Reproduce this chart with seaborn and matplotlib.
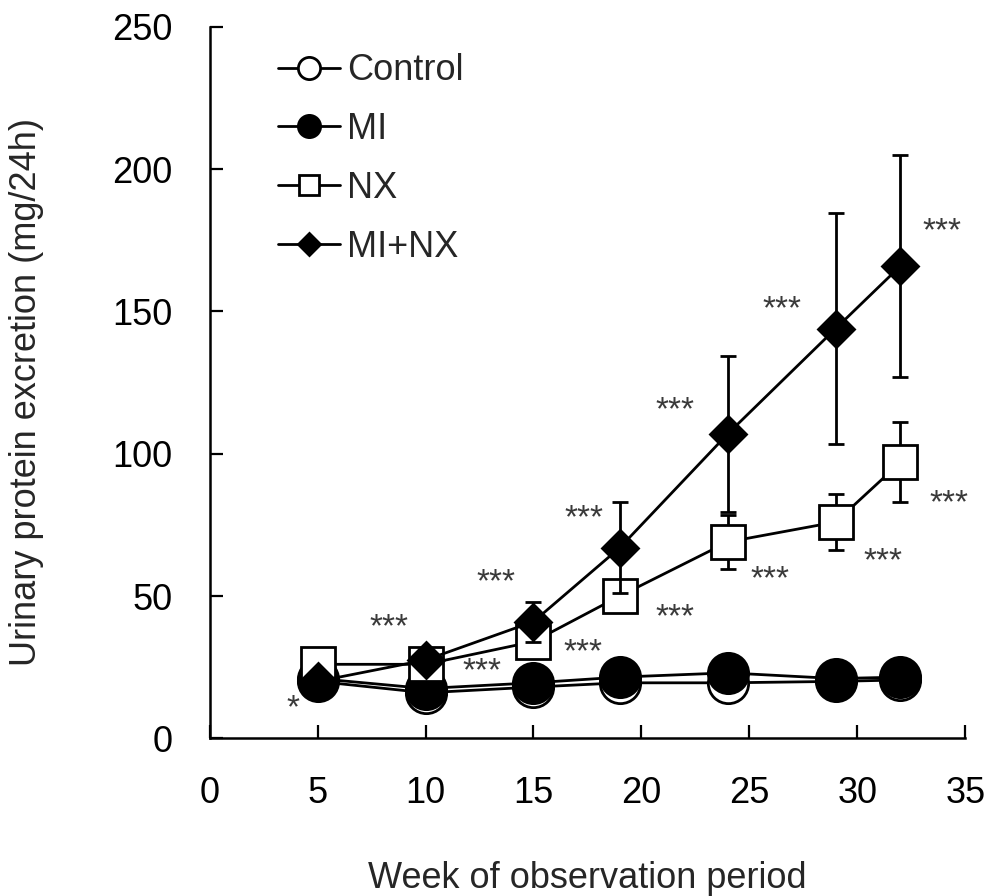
import matplotlib
matplotlib.use("Agg")
import matplotlib.pyplot as plt
from matplotlib.lines import Line2D
import seaborn as sns
import numpy as np

weeks = [5, 10, 15, 19, 24, 29, 32]
control = [20, 16, 18, 19.5, 19.5, 20, 20.5]
mi = [21, 17.5, 19.5, 21.5, 23, 21, 21.5]
nx = [26, 26, 34, 50, 69, 76, 97]
nx_err = [2, 2, 3, 3, 9.5, 10, 14]
minx = [20, 27.5, 41, 67, 107, 144, 166]
minx_err = [1, 2, 7, 16, 27.5, 40.5, 39]

series_names = ["Control", "MI", "NX", "MI+NX"]

ann_x = [3.85, 8.3, 12.6, 13.25, 17.3, 17.35, 21.55, 21.55, 25.95, 26.5, 31.2, 33.9, 34.25]
ann_y = [10.5, 39.0, 23.5, 54.8, 30.2, 77.0, 42.2, 115.0, 55.8, 150.6, 62.2, 178.0, 82.3]
ann_txt = ["*"] + ["***"] * 12

x_ticks = [0, 5, 10, 15, 20, 25, 30, 35]
y_ticks = [0, 50, 100, 150, 200, 250]

sns.set_style("ticks")
plt.rcParams["font.family"] = ["Liberation Sans", "DejaVu Sans"]

fig = plt.figure(figsize=(9.89, 8.96), dpi=100)
ax = fig.add_axes([0.212, 0.176, 0.764, 0.794])

lw = 2.0
mew = 2.0

sns.lineplot(x=weeks, y=control, ax=ax, color="black", linewidth=lw, marker="o",
             markersize=29, markerfacecolor="white", markeredgecolor="black",
             markeredgewidth=mew, errorbar=None, zorder=2.0)
sns.lineplot(x=weeks, y=mi, ax=ax, color="black", linewidth=lw, marker="o",
             markersize=29, markerfacecolor="black", markeredgecolor="black",
             markeredgewidth=mew, errorbar=None, zorder=2.1)
ax.errorbar(weeks, nx, yerr=nx_err, fmt="none", ecolor="black", elinewidth=lw,
            capsize=6, capthick=lw, zorder=2.2)
sns.lineplot(x=weeks, y=nx, ax=ax, color="black", linewidth=lw, marker="s",
             markersize=25, markerfacecolor="white", markeredgecolor="black",
             markeredgewidth=mew, errorbar=None, zorder=2.3)
ax.errorbar(weeks, minx, yerr=minx_err, fmt="none", ecolor="black", elinewidth=lw,
            capsize=6, capthick=lw, zorder=2.4)
sns.lineplot(x=weeks, y=minx, ax=ax, color="black", linewidth=lw, marker="D",
             markersize=18.8, markerfacecolor="black", markeredgecolor="black",
             markeredgewidth=mew, errorbar=None, zorder=2.5)

for x, y, t in zip(ann_x, ann_y, ann_txt):
    ax.text(x, y, t, ha="center", va="center", fontsize=24, color="#3a3a3a", zorder=3)

ax.set_xlim(0, 35)
ax.set_ylim(0, 250)
ax.set_xticks(x_ticks)
ax.set_yticks(y_ticks)
ax.set_xticklabels([str(v) for v in x_ticks])
ax.set_yticklabels([str(v) for v in y_ticks])
ax.tick_params(direction="in", length=9.5, width=1.6, labelsize=26, pad=27, colors="black")
for side in ["top", "right"]:
    ax.spines[side].set_visible(False)
for side in ["left", "bottom"]:
    ax.spines[side].set_linewidth(1.8)
    ax.spines[side].set_color("black")

ax.set_xlabel("Week of observation period", fontsize=26)
ax.set_ylabel("Urinary protein excretion (mg/24h)", fontsize=26)
ax.xaxis.set_label_coords(0.5, -0.173)
ax.yaxis.set_label_coords(-0.219, 0.487)

handles = [
    Line2D([], [], color="black", lw=lw, marker="o", ms=16, mfc="white", mec="black", mew=mew),
    Line2D([], [], color="black", lw=lw, marker="o", ms=16, mfc="black", mec="black", mew=mew),
    Line2D([], [], color="black", lw=lw, marker="s", ms=15, mfc="white", mec="black", mew=mew),
    Line2D([], [], color="black", lw=lw, marker="D", ms=11.5, mfc="black", mec="black", mew=mew),
]
ax.legend(handles, series_names, loc="upper left", bbox_to_anchor=(0.0905, 0.963),
          frameon=False, fontsize=26, handlelength=1.72, handletextpad=0.2,
          labelspacing=0.66, borderpad=0, borderaxespad=0)

fig.savefig("out.png", dpi=100)
